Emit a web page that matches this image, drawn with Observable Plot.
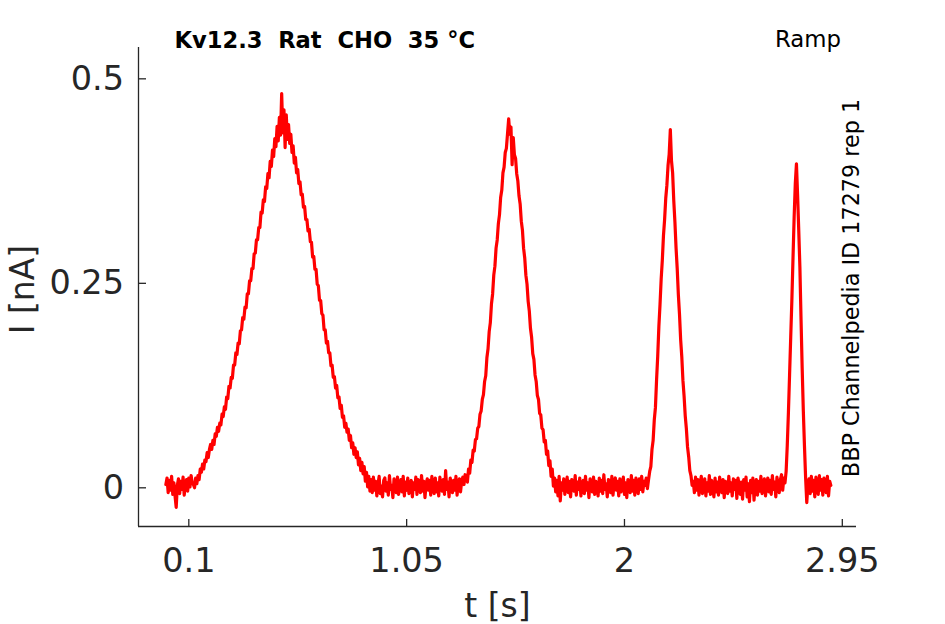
<!DOCTYPE html>
<html>
<head>
<meta charset="utf-8">
<script src="https://cdn.jsdelivr.net/npm/d3@7"></script>
<script src="https://cdn.jsdelivr.net/npm/@observablehq/plot@0.6"></script>
<style>
  html, body { margin: 0; padding: 0; background: #fff; }
  svg text { white-space: pre; }
</style>
</head>
<body>
<div id="chart"></div>
<script>
const SAMPLE_STEP = 0.005; // s

const baselineA = [0.004, 0.012, -0.006, 0.009, -0.003, 0.014, -0.008, 0.006, -0.010, -0.024, 0.003, 0.011, -0.007, 0.008, -0.002, 0.013, -0.009, 0.005, 0.010, -0.004, 0.012, 0.001, 0.015, 0.006];

const ramp1 = [0.004, 0.000, 0.012, 0.005, 0.015, 0.010, 0.023, 0.019, 0.029, 0.023,
  0.034, 0.032, 0.043, 0.037, 0.047, 0.053, 0.047, 0.058, 0.053, 0.066,
  0.063, 0.074, 0.069, 0.079, 0.077, 0.090, 0.087, 0.099, 0.096, 0.111,
  0.109, 0.124, 0.122, 0.135, 0.134, 0.150,
  0.150, 0.165, 0.163, 0.177, 0.176, 0.192, 0.193, 0.208, 0.206, 0.221,
  0.220, 0.237, 0.237, 0.253, 0.253, 0.268, 0.268, 0.286, 0.287, 0.303,
  0.303, 0.318, 0.318, 0.337, 0.336, 0.352, 0.350, 0.368, 0.366, 0.384,
  0.379, 0.399, 0.393, 0.413, 0.405, 0.427, 0.417, 0.442, 0.424, 0.453,
  0.431, 0.482, 0.434, 0.462, 0.416, 0.456, 0.426, 0.444, 0.421, 0.432,
  0.410, 0.418, 0.397, 0.404, 0.385, 0.389,
  0.372, 0.374, 0.358, 0.359, 0.343, 0.344, 0.328, 0.328, 0.314, 0.316,
  0.301, 0.300, 0.282, 0.283, 0.267, 0.267, 0.249, 0.247, 0.229, 0.229,
  0.213, 0.211, 0.193, 0.193, 0.177, 0.179, 0.165, 0.165, 0.149, 0.150,
  0.135, 0.136, 0.122, 0.125, 0.110, 0.111, 0.097, 0.101, 0.086, 0.088,
  0.074, 0.079, 0.068, 0.072, 0.058, 0.064, 0.049, 0.055, 0.041, 0.049,
  0.037, 0.044, 0.028, 0.036, 0.021, 0.031, 0.017, 0.026, 0.008, 0.019,
  0.001, 0.014, -0.004];

const baselineB = [0.010, -0.006, 0.013, -0.003, 0.008, -0.010, 0.004, 0.014, -0.007, 0.002,
  -0.011, 0.009, 0.012, -0.004, 0.006, -0.009, 0.015, -0.002, 0.003, -0.012,
  0.011, 0.005, -0.006, 0.013, -0.008, 0.001, 0.010, -0.005, 0.014, -0.010,
  0.007, -0.003, 0.012, -0.007, 0.004, 0.009, -0.011, 0.006, -0.002, 0.013,
  -0.008, 0.010, 0.002, -0.006, 0.015, -0.004, 0.008, -0.012, 0.005, 0.011,
  -0.003, 0.009, -0.009, 0.014, 0.000, -0.007, 0.012, -0.005, 0.006, -0.010,
  0.013, 0.003, -0.004, 0.010, -0.008, 0.021, -0.002, 0.007, -0.011, 0.012,
  0.004, -0.006, 0.009, -0.003, 0.014, -0.009, 0.006, 0.011, -0.005, 0.008,
  0.013, 0.004, 0.016];

const ramp2 = [0.015, 0.007, 0.023, 0.018, 0.034, 0.031, 0.046, 0.045, 0.059, 0.060,
  0.073, 0.075, 0.090, 0.094, 0.108, 0.114, 0.130, 0.137, 0.159, 0.170,
  0.191, 0.202, 0.225, 0.237, 0.260, 0.271, 0.293, 0.303, 0.323, 0.334,
  0.355, 0.364, 0.385, 0.392, 0.410, 0.415, 0.433, 0.451, 0.432, 0.441,
  0.395, 0.428, 0.407, 0.403, 0.384, 0.375, 0.357, 0.347, 0.326, 0.315,
  0.293, 0.281, 0.260, 0.249, 0.228, 0.216, 0.195, 0.184, 0.164, 0.157,
  0.138, 0.130, 0.113, 0.108, 0.091, 0.089, 0.073, 0.071, 0.056, 0.058,
  0.041, 0.045, 0.027, 0.033, 0.014, 0.023, 0.002];

const baselineC = [0.012, -0.005, 0.009, -0.010, 0.014, -0.016, 0.006, -0.003, 0.011, -0.008,
  0.004, 0.013, -0.006, 0.008, -0.011, 0.010, 0.002, -0.004, 0.015, -0.009,
  0.007, -0.002, 0.012, -0.010, 0.005, 0.009, -0.007, 0.014, -0.003, 0.006,
  -0.012, 0.011, 0.003, -0.005, 0.013, -0.008, 0.008, 0.001, -0.010, 0.012,
  -0.004, 0.009, -0.007, 0.016, -0.002, 0.005, -0.011, 0.010, 0.004, -0.006,
  0.014, -0.009, 0.007, 0.012, -0.003, 0.008, -0.010, 0.011, -0.005, 0.003,
  0.013, -0.008, 0.006, -0.012, 0.010, 0.002, -0.006, 0.015, -0.004, 0.009,
  -0.009, 0.012, 0.005, -0.007, 0.011, -0.002, 0.014, -0.005, 0.008, 0.003,
  0.012, -0.001, 0.010];

const ramp3 = [0.020, 0.026, 0.047, 0.058, 0.083, 0.098, 0.132, 0.161, 0.197, 0.224,
  0.255, 0.278, 0.308, 0.328, 0.354, 0.370, 0.394, 0.408, 0.438, 0.400,
  0.385, 0.351, 0.325, 0.293, 0.268, 0.236, 0.212, 0.181, 0.160, 0.131,
  0.112, 0.088, 0.072, 0.050, 0.038, 0.021, 0.015, 0.003];

const baselineD = [0.008, -0.006, 0.013, -0.003, 0.010, -0.009, 0.005, 0.014, -0.007, 0.002,
  0.011, -0.010, 0.006, -0.004, 0.015, -0.008, 0.009, 0.001, -0.011, 0.012,
  -0.005, 0.007, -0.009, 0.013, 0.003, -0.006, 0.010, -0.012, 0.008, 0.002,
  -0.007, 0.014, -0.004, 0.006, -0.010, 0.011, -0.002, 0.009, -0.013, 0.012,
  0.004, -0.008, 0.007, -0.014, 0.010, -0.003, 0.013, -0.011, 0.005, -0.017,
  0.009, -0.006, 0.012, -0.015, 0.004, 0.010, -0.009, 0.008, -0.004, 0.014,
  -0.007, 0.006, 0.011, -0.010, 0.003, 0.012, -0.005, 0.009, -0.008, 0.015,
  -0.002, 0.007, -0.011, 0.013, 0.004, -0.006, 0.010, 0.016, -0.003, 0.012,
  0.006];

const ramp4 = [0.020, 0.052, 0.092, 0.138, 0.184, 0.229, 0.281, 0.331, 0.372, 0.396,
  0.358, 0.315, 0.270, 0.206, 0.146, 0.094, 0.051, 0.012, -0.018, 0.004];

const baselineE = [0.011, -0.007, 0.014, -0.004, 0.009, -0.011, 0.013, 0.002, -0.008, 0.015,
  -0.003, 0.010, -0.009, 0.012, 0.004, -0.006, 0.014, -0.010, 0.008, 0.003];

// segment start times (s)
const segmentStarts = [0.000, 0.120, 0.895, 1.310, 1.695, 2.110, 2.300, 2.705, 2.805];
const segmentValues = [baselineA, ramp1, baselineB, ramp2, baselineC, ramp3, baselineD, ramp4, baselineE];

const xTicks = [0.1, 1.05, 2, 2.95];
const xTickLabels = ["0.1", "1.05", "2", "2.95"];
const yTicks = [0, 0.25, 0.5];
const yTickLabels = ["0", "0.25", "0.5"];

const titleText = "Kv12.3  Rat  CHO  35 °C";
const protocolText = "Ramp";
const sideText = "BBP Channelpedia ID 17279 rep 1";
const xLabel = "t [s]";
const yLabel = "I [nA]";

// ---- build table ----
const trace = [];
segmentValues.forEach((vals, s) => {
  vals.forEach((v, i) => trace.push({t: segmentStarts[s] + i * SAMPLE_STEP, I: v}));
});

const xDomain = [-0.1194, 3.0119];
const yDomain = [-0.0473, 0.5383];
const axisColor = "#262626";
const xLabelMap = new Map(xTicks.map((d, i) => [d, xTickLabels[i]]));
const yLabelMap = new Map(yTicks.map((d, i) => [d, yTickLabels[i]]));

const chart = Plot.plot({
  width: 945,
  height: 624,
  marginLeft: 138,
  marginRight: 89,
  marginTop: 47,
  marginBottom: 98,
  style: {fontFamily: "DejaVu Sans", background: "#fff", overflow: "visible"},
  x: {domain: xDomain, label: null},
  y: {domain: yDomain, label: null},
  marks: [
    // axis lines
    Plot.ruleX([xDomain[0]], {stroke: axisColor, strokeWidth: 1.3}),
    Plot.ruleY([yDomain[0]], {stroke: axisColor, strokeWidth: 1.3}),
    // inward ticks
    Plot.ruleX(xTicks, {stroke: axisColor, strokeWidth: 1.3, insetTop: 472}),
    Plot.ruleY(yTicks, {stroke: axisColor, strokeWidth: 1.3, insetRight: 710}),
    // tick labels
    Plot.axisX(xTicks, {anchor: "bottom", tickSize: 0, tickPadding: 22, fontSize: 33.5, color: axisColor, tickFormat: d => xLabelMap.get(d), label: null}),
    Plot.axisY(yTicks, {anchor: "left", tickSize: 0, tickPadding: 14.5, fontSize: 33.5, color: axisColor, tickFormat: d => yLabelMap.get(d), label: null}),
    // trace
    Plot.line(trace, {x: "t", y: "I", stroke: "#ff0000", strokeWidth: 3.2, strokeLinejoin: "round"}),
    // axis labels
    Plot.text([xLabel], {frameAnchor: "bottom", lineAnchor: "middle", dy: 79.5, fontSize: 33, fill: axisColor, text: d => d}),
    Plot.text([yLabel], {frameAnchor: "left", lineAnchor: "middle", textAnchor: "middle", rotate: -90, dx: -115.5, dy: 2.5, fontSize: 33, fill: axisColor, text: d => d}),
    // title texts
    Plot.text([titleText], {frameAnchor: "top-left", textAnchor: "start", lineAnchor: "middle", dx: 36, dy: -7, fontSize: 22.6, fontWeight: "bold", fill: "#000", text: d => d}),
    Plot.text([protocolText], {frameAnchor: "top-right", textAnchor: "end", lineAnchor: "middle", dx: -15.5, dy: -8, fontSize: 22.8, fill: "#000", text: d => d}),
    Plot.text([sideText], {frameAnchor: "right", textAnchor: "middle", lineAnchor: "middle", rotate: -90, dx: -5, dy: 1, fontSize: 22.3, fill: "#000", text: d => d})
  ]
});
document.getElementById("chart").appendChild(chart);
</script>
</body>
</html>
